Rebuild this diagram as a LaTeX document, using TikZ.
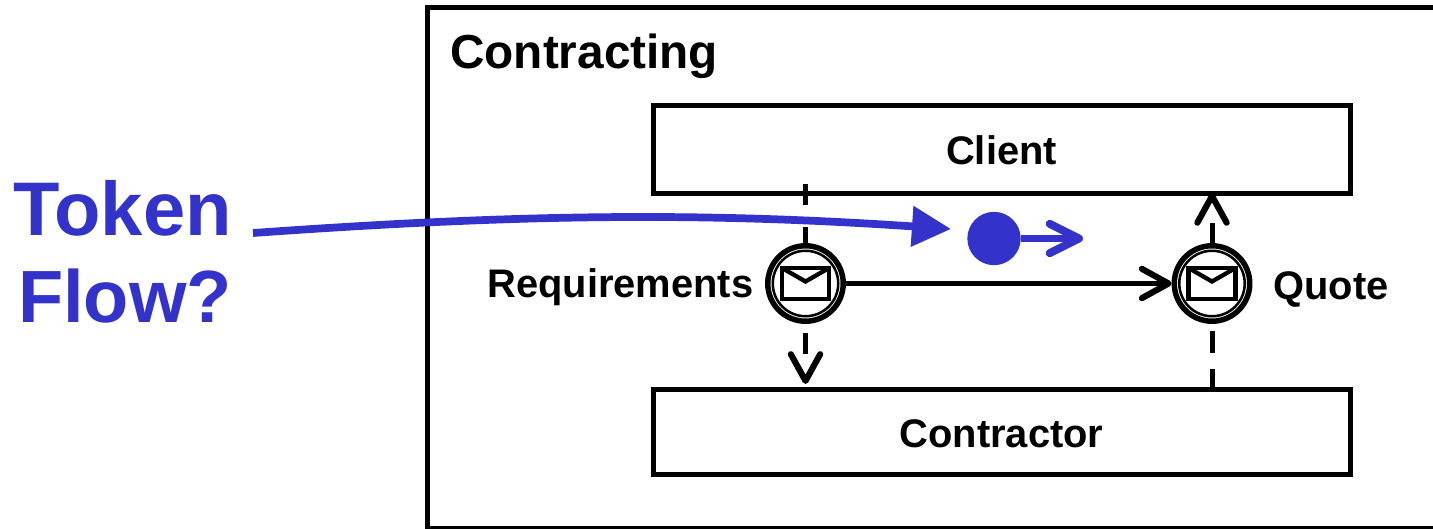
\documentclass[tikz,border=0pt]{standalone}
\usepackage{fontspec}
\setmainfont{Liberation Sans}
\usetikzlibrary{arrows.meta}
\definecolor{tokenblue}{HTML}{3333CC}
\tikzset{
    lane/.style={draw,line width=3.75pt,minimum width=522.75pt,inner sep=0pt,outer sep=0pt},
    event/.style={circle,draw,line width=4.1pt,minimum size=56.6pt,inner sep=0pt,outer sep=0pt},
    ring/.style={circle,draw,line width=1.9pt,minimum size=49.1pt,inner sep=0pt,outer sep=0pt},
    label/.style={font=\fontsize{29.9}{34}\selectfont\bfseries,inner sep=0pt},
    msg/.style={line width=3.75pt,-{Straight Barb[length=20pt,width=22pt,line width=4.6pt,round]}},
}
\begin{document}
\begin{tikzpicture}[x=0.75pt,y=-0.75pt]
    \useasboundingbox (0,0) rectangle (1433,528);
    \node[draw,line width=3.75pt,minimum width=790pt,minimum height=390pt,inner sep=0pt,outer sep=0pt,anchor=north west] (contracting) at (427.5,8) {};
    \node[label,font=\fontsize{35.8}{40}\selectfont\bfseries,anchor=base west] (title) at (450,69) {Contracting};

    \node[lane,minimum height=66pt] (client) at (1001.5,149) {};
    \node[label,anchor=base] (clienttext) at (1001.5,164) {Client};
    \node[lane,minimum height=63.4pt] (contractor) at (1001.5,432.2) {};
    \node[label,anchor=base] (contractortext) at (1001.5,447) {Contractor};

    % the two message events
    \node[event] (req) at (805.5,283.5) {};
    \node[event] (quote) at (1212,283.5) {};
    \foreach \ev in {req,quote} {
        \node[ring] at (\ev) {};
        \begin{scope}[shift={(\ev)},line width=3.2pt]
            \draw (-23.5,-15.5) rectangle (23.5,15.5);
            \draw (-23.5,-15.5) -- (0,-2) -- (23.5,-15.5);
        \end{scope}
    }
    \node[label,anchor=base east] (reqtext) at (753.5,297) {Requirements};
    \node[label,anchor=base west] (quotetext) at (1273,299) {Quote};

    \coordinate (start) at (805.5,184);
    \coordinate (reqout) at (805.5,333);
    \draw[line width=3.75pt,dash pattern=on 16pt off 16pt] (start) -- (req.north);
    \draw[msg,dash pattern=on 16pt off 30pt,shorten >=4.5pt] (reqout) -- (contractor.north -| req);
    \draw[msg,shorten >=2pt] (req.east) -- (quote.west);
    \draw[line width=3.75pt,dash pattern=on 16pt off 12pt] (contractor.north -| quote) -- (quote.south);
    \draw[msg,dash pattern=on 17pt off 30pt] (quote.north) -- (client.south -| quote);

    % token
    \node[circle,fill=tokenblue,minimum size=40pt,inner sep=0pt,outer sep=0pt] (token) at (994,238.5) {};
    \coordinate (tokenend) at (1083,238.5);
    \draw[tokenblue,line width=5pt,-{Straight Barb[length=22pt,width=22pt,line width=6pt,round]}] (token) -- (tokenend);

    \node[font=\fontsize{57}{60}\selectfont\bfseries,text=tokenblue,inner sep=0pt,anchor=base east] (tokentext) at (232,235.5) {Token};
    \node[font=\fontsize{55.5}{60}\selectfont\bfseries,text=tokenblue,inner sep=0pt,anchor=base east] (flowtext) at (232,322.5) {Flow?};
    \coordinate (curvestart) at (253,233);
    \coordinate (curveend) at (951,229);
    \draw[tokenblue,line width=5.8pt,-{Triangle[length=29.3pt,width=29.3pt]}] (curvestart) .. controls (520,214) and (700,212) .. (curveend);
\end{tikzpicture}
\end{document}
